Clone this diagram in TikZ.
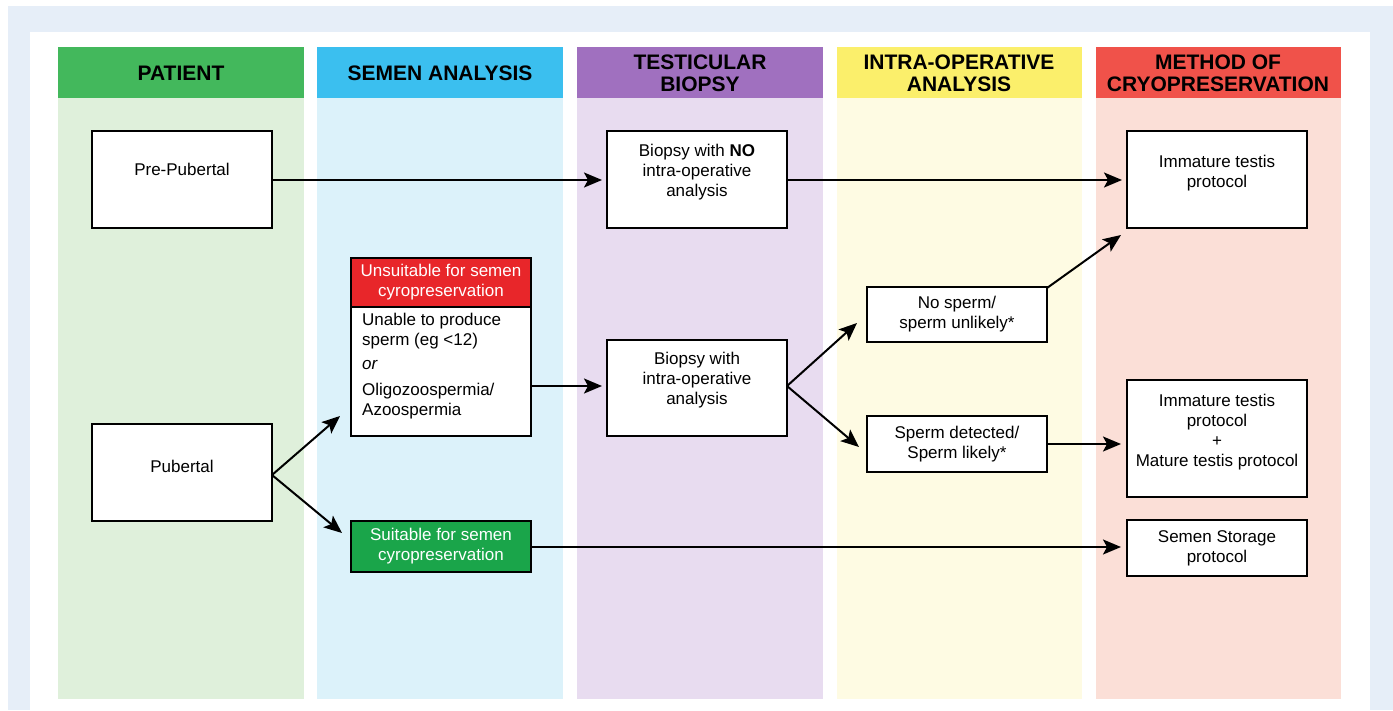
\documentclass[tikz,border=0pt]{standalone}
\usepackage{fontspec}
\setmainfont{Liberation Sans}
\usetikzlibrary{arrows.meta}
\definecolor{pagebg}{HTML}{E6EEF8}
\definecolor{hdgreen}{HTML}{43B85C}
\definecolor{bdgreen}{HTML}{DFF0DB}
\definecolor{hdblue}{HTML}{3BBFEF}
\definecolor{bdblue}{HTML}{DCF2FA}
\definecolor{hdpurple}{HTML}{A070BF}
\definecolor{bdpurple}{HTML}{E8DCF0}
\definecolor{hdyellow}{HTML}{FBEF6B}
\definecolor{bdyellow}{HTML}{FEFBE3}
\definecolor{hdred}{HTML}{F0524A}
\definecolor{bdred}{HTML}{FBDFD7}
\definecolor{unsuit}{HTML}{E8262A}
\definecolor{suit}{HTML}{1AA54A}
\begin{document}
\begin{tikzpicture}[x=1pt,y=-1pt,
  hdr/.style={font=\fontsize{21}{22}\selectfont\bfseries, align=center, text=black, inner sep=0pt},
  box/.style={draw=black, line width=1.8pt, fill=white},
  txt/.style={font=\fontsize{17}{20}\selectfont, align=center, inner sep=0pt},
  arr/.style={line width=2pt, -{Stealth[length=18pt,width=15pt,inset=4pt]}}]
\useasboundingbox (0,0) rectangle (1393,710);
\fill[white] (0,0) rectangle (1393,710);
\fill[pagebg] (8,6) rectangle (1393,710);
\fill[white] (30,32) rectangle (1370,710);
% columns
\fill[hdgreen] (58,47) rectangle (304,98);
\fill[bdgreen] (58,98) rectangle (304,699);
\fill[hdblue] (317,47) rectangle (563,98);
\fill[bdblue] (317,98) rectangle (563,699);
\fill[hdpurple] (577,47) rectangle (823,98);
\fill[bdpurple] (577,98) rectangle (823,699);
\fill[hdyellow] (837,47) rectangle (1082,98);
\fill[bdyellow] (837,98) rectangle (1082,699);
\fill[hdred] (1096,47) rectangle (1341,98);
\fill[bdred] (1096,98) rectangle (1341,699);
\node[hdr] (h1) at (181,73) {PATIENT};
\node[hdr] (h2) at (440,73) {SEMEN ANALYSIS};
\node[hdr] (h3) at (700,73) {TESTICULAR\\BIOPSY};
\node[hdr] (h4) at (959,73) {INTRA-OPERATIVE\\ANALYSIS};
\node[hdr] (h5) at (1218,73) {METHOD OF\\CRYOPRESERVATION};
% boxes
\draw[box] (92,131) rectangle (272,228);
\node[txt] (pret) at (182,169) {Pre-Pubertal};
\draw[box] (92,424) rectangle (272,521);
\node[txt] (pubt) at (182,466) {Pubertal};
\draw[box] (607,131) rectangle (787,228);
\node[txt] (bnot) at (697,172) {Biopsy with \textbf{NO}\\intra-operative\\analysis};
\draw[box] (1127,131) rectangle (1307,228);
\node[txt] (imm1) at (1217,173) {Immature testis\\protocol};
% unsuitable
\draw[box] (351,258) rectangle (531,436);
\fill[unsuit] (351.9,258.9) rectangle (530.1,307);
\draw[line width=1.8pt] (351,307) -- (531,307);
\draw[line width=1.8pt] (351,258) rectangle (531,436);
\node[txt, text=white] (unh) at (441,282) {Unsuitable for semen\\cyropreservation};
\node[txt, align=left, anchor=north west] (unb) at (362,313) {Unable to produce\\sperm (eg <12)\\[4pt]\textit{or}\\[6pt]Oligozoospermia/\\Azoospermia};
% suitable
\draw[box, fill=suit] (351,521) rectangle (531,572);
\node[txt, text=white] (sut) at (441,546) {Suitable for semen\\cyropreservation};
\draw[box] (607,340) rectangle (787,436);
\node[txt] (bwt) at (697,380) {Biopsy with\\intra-operative\\analysis};
\draw[box] (867,287) rectangle (1047,342);
\node[txt] (nst) at (957,314) {No sperm/\\sperm unlikely*};
\draw[box] (867,416) rectangle (1047,472);
\node[txt] (sdt) at (957,444) {Sperm detected/\\Sperm likely*};
\draw[box] (1127,380) rectangle (1307,497);
\node[txt] (mmt) at (1217,432) {Immature testis\\protocol\\+\\Mature testis protocol};
\draw[box] (1127,520) rectangle (1307,576);
\node[txt] (sst) at (1217,548) {Semen Storage\\protocol};
% connector coordinates
\coordinate (preR) at (272,180);
\coordinate (bnoL) at (602,180);
\coordinate (bnoR) at (787,180);
\coordinate (immL) at (1122,180);
\coordinate (pubR) at (272,475);
\coordinate (unsL) at (340,416);
\coordinate (suiL) at (342,533);
\coordinate (unsR) at (531,386);
\coordinate (bwiL) at (602,386);
\coordinate (bwiR) at (787,386);
\coordinate (nsL) at (857,323);
\coordinate (sdL) at (859,447);
\coordinate (nsTR) at (1047,288);
\coordinate (immBL) at (1121,235);
\coordinate (sdR) at (1047,444);
\coordinate (mmL) at (1121,444);
\coordinate (suiR) at (531,547);
\coordinate (ssL) at (1121,547);
\draw[arr] (preR) -- (bnoL);
\draw[arr] (bnoR) -- (immL);
\draw[arr] (pubR) -- (unsL);
\draw[arr] (pubR) -- (suiL);
\draw[arr] (unsR) -- (bwiL);
\draw[arr] (bwiR) -- (nsL);
\draw[arr] (bwiR) -- (sdL);
\draw[arr] (nsTR) -- (immBL);
\draw[arr] (sdR) -- (mmL);
\draw[arr] (suiR) -- (ssL);
\end{tikzpicture}
\end{document}
